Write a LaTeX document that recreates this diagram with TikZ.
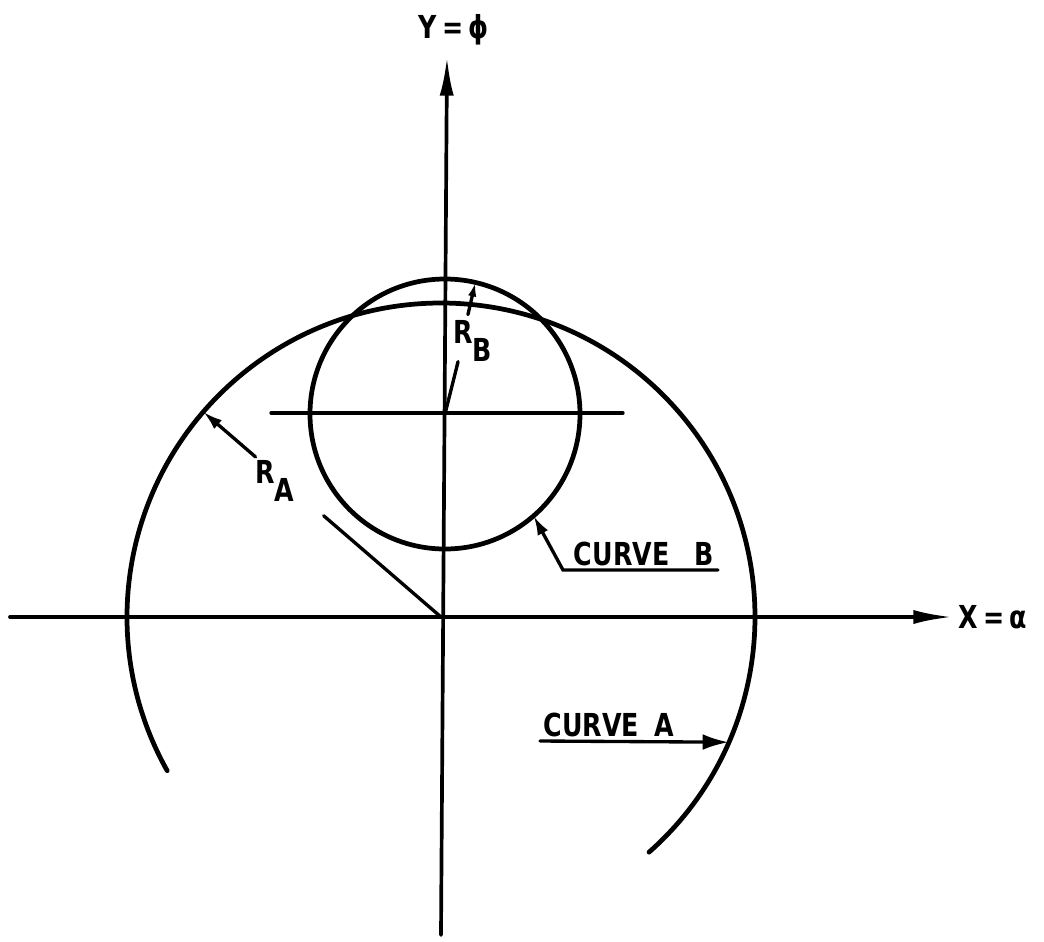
\documentclass[tikz,border=0pt]{standalone}
\usepackage{fontspec}
\setmainfont{DejaVu Sans}[FakeStretch=0.8]
\usetikzlibrary{arrows.meta}
\begin{document}
\begin{tikzpicture}[
	x=0.02cm, y=0.02cm,
	asse/.style={line width=2.1pt, line cap=round},
	curva/.style={line width=2.7pt, line cap=round},
	raggio/.style={line width=1.9pt, line cap=round},
	puntaasse/.style={-{Latex[length=22pt, width=8pt]}},
	punta/.style={-{Latex[length=#1, width=0.6*#1]}},
	etich/.style={font=\fontsize{18}{20}\selectfont\bfseries, inner sep=0pt},
	]
	\useasboundingbox (-441,-324) rectangle (603,617);
	
	%% =========================================================
	%% assi X = alpha, Y = phi
	%% =========================================================
	\coordinate (O) at (0,0);
	\coordinate (Ybas) at (0,-318);
	\coordinate (Ycim) at (6,560);
	\coordinate (Xsin) at (-431,0);
	\coordinate (Xdes) at (511,0);
	\draw[asse, puntaasse] (Ybas) -- (Ycim);
	\draw[asse, puntaasse] (Xsin) -- (Xdes);
	\node[etich] (ylab) at (13,587) {Y\,=\,ϕ};
	\node[etich, anchor=west] (xlab) at (517,0) {X\,=\,α};
	
	%% =========================================================
	%% curva A (centro O) e curva B (centro B)
	%% =========================================================
	\draw[curva] (-48.5:314) arc[start angle=-48.5, end angle=209.3, radius=314];
	\coordinate (B) at (4,203);
	\draw[curva] (B) circle[radius=135];
	\coordinate (Hsin) at (-170,204);
	\coordinate (Hdes) at (182,204);
	\draw[raggio] (Hsin) -- (Hdes);
	
	%% raggio R_A
	\coordinate (ra1) at (139.2:155);
	\coordinate (ra2) at (139.2:245);
	\coordinate (ra3) at (139.2:314);
	\draw[raggio] (O) -- (ra1);
	\draw[raggio, punta=11pt] (ra2) -- (ra3);
	\node[etich, anchor=base west] (ra) at (-186,134) {R\raisebox{-0.6em}{A}};
	
	%% raggio R_B
	\coordinate (rb1) at ([shift={(76:54)}]B);
	\coordinate (rb2) at ([shift={(77:102)}]B);
	\coordinate (rb3) at ([shift={(77:135)}]B);
	\draw[raggio] (B) -- (rb1);
	\draw[raggio, punta=8pt] (rb2) -- (rb3);
	\node[etich, anchor=base west] (rb) at (12,274) {R\raisebox{-0.6em}{B}};
	
	%% richiami delle curve
	\coordinate (cbpun) at ([shift={(-49:135)}]B);
	\coordinate (cbgom) at (122,47);
	\coordinate (cbfin) at (277,47);
	\draw[raggio, punta=11pt] (cbfin) -- (cbgom) -- (cbpun);
	\node[etich] (cb) at (203,63) {CURVE\hspace{0.8em}B};
	
	\coordinate (caini) at (99,-124);
	\coordinate (capun) at (-23.5:314);
	\draw[raggio, punta=15pt] (caini) -- (capun);
	\node[etich] (ca) at (168,-108) {CURVE\hspace{0.5em}A};
	
\end{tikzpicture}
\end{document}
